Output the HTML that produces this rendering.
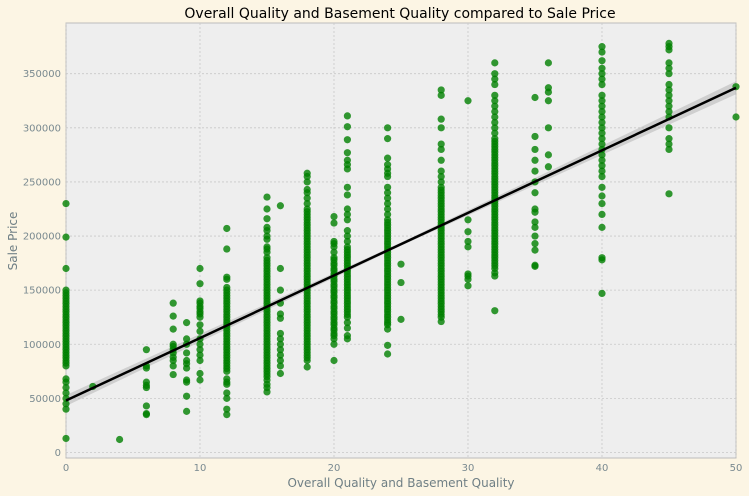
<!DOCTYPE html>
<html><head><meta charset="utf-8"><style>
html,body{margin:0;padding:0;background:#fcf5e4;}
svg{display:block;font-family:"DejaVu Sans","Liberation Sans",sans-serif;}
</style></head><body>
<svg id="chart" width="749" height="496" viewBox="0 0 749 496">
<rect x="0" y="0" width="749" height="496" fill="#fcf5e4"/>
<rect x="66" y="23" width="670" height="435" fill="#eeeeee" stroke="#bcbcbc" stroke-width="1"/>
<g id="grid"></g>
<g id="band"></g>
<g id="points"></g>
<g id="reg"></g>
<g id="ticks"></g>
<text x="400" y="18" text-anchor="middle" font-size="14" fill="#000">Overall Quality and Basement Quality compared to Sale Price</text>
<text x="401" y="487" text-anchor="middle" font-size="12" fill="#6f7f85">Overall Quality and Basement Quality</text>
<text transform="translate(17,241) rotate(-90)" text-anchor="middle" font-size="12" fill="#6f7f85">Sale Price</text>
</svg>
<script>
const xTicks = [0, 10, 20, 30, 40, 50];
const yTicks = [0, 50000, 100000, 150000, 200000, 250000, 300000, 350000];
const groupX = [0, 2, 4, 6, 8, 9, 10, 12, 15, 16, 18, 20, 21, 24, 25, 28, 30, 32, 35, 36, 40, 45, 50];
const groupPrices = [
 [13,40,45,50,55,60,65,68,80,82.5,85,87.5,90,92.5,95,97.5,100,102.5,105,107.5,110,112.5,115,117.5,120,122.5,125,127.5,130,132.5,135,137.5,140,142.5,145,147.5,150,170,199,230],
 [61],
 [12],
 [35,36,43,60,62,65,78,80,95],
 [72,80,85,88,92,95,98,100,114,126,138],
 [38,52,65,67,78,82,85,92,100,105,120],
 [67,73,85,90,95,100,105,112,118,125,128,130,133,135,138,140,156,170],
 [35,40,50,55,63,65,68,75,77.5,80,82.5,85,87.5,90,92.5,95,97.5,100,102.5,105,107.5,110,112.5,115,117.5,120,122.5,125,127.5,130,132.5,135,137.5,140,142.5,145,147.5,150,152.5,160,162,188,207],
 [56,60,63,67,70,72.5,75,77.5,80,82.5,85,87.5,90,92.5,95,97.5,100,102.5,105,107.5,110,112.5,115,117.5,120,122.5,125,127.5,130,132.5,135,137.5,140,142.5,145,147.5,150,152.5,155,157.5,160,162.5,165,167.5,170,172.5,175,177.5,180,185,188,190,197,200,205,208,216,225,236],
 [73,80,85,90,95,100,105,110,124,128,138,150,170,228],
 [79,85,87.5,90,92.5,95,97.5,100,102.5,105,107.5,110,112.5,115,117.5,120,122.5,125,127.5,130,132.5,135,137.5,140,142.5,145,147.5,150,152.5,155,157.5,160,162.5,165,167.5,170,172.5,175,177.5,180,182.5,185,187.5,190,192.5,195,197.5,200,202.5,205,207.5,210,212.5,215,217.5,220,222.5,225,230,235,240,243,250,255,258],
 [85,100,105,108,110,113,115,118,120,123,125,128,130,133,135,138,140,143,145,148,150,153,155,158,160,163,165,168,170,173,175,178,180,185,190,193,195,212,218],
 [105,108,115,120,125,127.5,130,132.5,135,137.5,140,142.5,145,147.5,150,152.5,155,157.5,160,162.5,165,167.5,170,172.5,175,177.5,180,182.5,185,187.5,190,195,200,205,215,220,225,238,245,262,266,270,277,289,301,311],
 [91,99,114,118,120,122.5,125,127.5,130,132.5,135,137.5,140,142.5,145,147.5,150,152.5,155,157.5,160,162.5,165,167.5,170,172.5,175,177.5,180,182.5,185,187.5,190,192.5,195,197.5,200,202.5,205,207.5,210,212.5,215,220,225,230,235,240,245,255,258,262,266,272,290,300],
 [123,157,174],
 [121,125,127.5,130,132.5,135,137.5,140,142.5,145,147.5,150,152.5,155,157.5,160,162.5,165,167.5,170,172.5,175,177.5,180,182.5,185,187.5,190,192.5,195,197.5,200,202.5,205,207.5,210,212.5,215,217.5,220,222.5,225,227.5,230,232.5,235,237.5,240,242.5,245,250,255,260,270,280,285,300,308,330,335],
 [154,160,163,165,190,195,204,215,325],
 [131,163,166,170,172.5,175,177.5,180,182.5,185,187.5,190,192.5,195,197.5,200,202.5,205,207.5,210,212.5,215,217.5,220,222.5,225,227.5,230,232.5,235,237.5,240,242.5,245,247.5,250,252.5,255,257.5,260,262.5,265,267.5,270,272.5,275,277.5,280,282.5,285,287.5,290,295,300,305,310,315,320,325,330,340,345,350,360],
 [172,173,187,193,200,208,213,222,225,240,250,260,270,280,292,328],
 [264,275,300,325,333,337,360],
 [147,178,180,208,220,230,237,245,255,260,265,270,275,280,285,290,295,300,305,310,315,320,325,330,340,345,350,355,362,370,375],
 [239,280,285,290,300,310,315,320,325,330,335,340,350,355,360,372,375,378],
 [310,338]
];
const regX = [0, 50];
const regY = [48000, 337000];
const bandHalfWidth = [5000, 1500, 6000];

const NS = "http://www.w3.org/2000/svg";
const X0 = 66, X1 = 736, Y0 = 452.5, Y350 = 73.7;
function sx(v){ return X0 + (v - 0) / 50 * (X1 - X0); }
function sy(v){ return Y0 - v / 350000 * (Y0 - Y350); }
function mk(tag, attrs, parent){
  const e = document.createElementNS(NS, tag);
  for (const k in attrs) e.setAttribute(k, attrs[k]);
  parent.appendChild(e); return e;
}
const grid = document.getElementById('grid');
const ticks = document.getElementById('ticks');
xTicks.forEach(t => {
  const gl = mk('line', {x1:sx(t), x2:sx(t), y1:23, y2:458, stroke:'#c8c8c8', 'stroke-width':0.8, 'stroke-dasharray':'2,2'}, grid);
  
  
  const lb = mk('text', {x:sx(t), y:471, 'text-anchor':'middle', 'font-size':10, fill:'#7a8a90'}, ticks);
  lb.textContent = t;
  
  
});
yTicks.forEach(t => {
  const gl = mk('line', {x1:66, x2:736, y1:sy(t), y2:sy(t), stroke:'#c8c8c8', 'stroke-width':0.8, 'stroke-dasharray':'2,2'}, grid);
  
  
  const lb = mk('text', {x:61, y:sy(t)+3.5, 'text-anchor':'end', 'font-size':10, fill:'#7a8a90'}, ticks);
  lb.textContent = t;
  
  
});
const pts = document.getElementById('points');
groupX.forEach((gx, i) => {
  groupPrices[i].forEach(p => {
    const c = mk('circle', {cx:sx(gx), cy:sy(p*1000), r:3.6, fill:'#008000', 'fill-opacity':0.8}, pts);
    
    
  });
});
const bx = [regX[0], (regX[0]+regX[1])/2, regX[1]];
const byc = bx.map(x => regY[0] + (regY[1]-regY[0]) * (x - regX[0]) / (regX[1]-regX[0]));
let d = '';
bx.forEach((x,i)=>{ d += (i?'L':'M') + sx(x) + ',' + sy(byc[i]+bandHalfWidth[i]); });
for (let i = bx.length-1; i >= 0; i--) d += 'L' + sx(bx[i]) + ',' + sy(byc[i]-bandHalfWidth[i]);
d += 'Z';
const band = mk('path', {d:d, fill:'#b0b0b0', 'fill-opacity':0.5}, document.getElementById('band'));


const rl = mk('line', {x1:sx(regX[0]), y1:sy(regY[0]), x2:sx(regX[1]), y2:sy(regY[1]), stroke:'#000', 'stroke-width':2.5}, document.getElementById('reg'));


</script>
</body></html>
